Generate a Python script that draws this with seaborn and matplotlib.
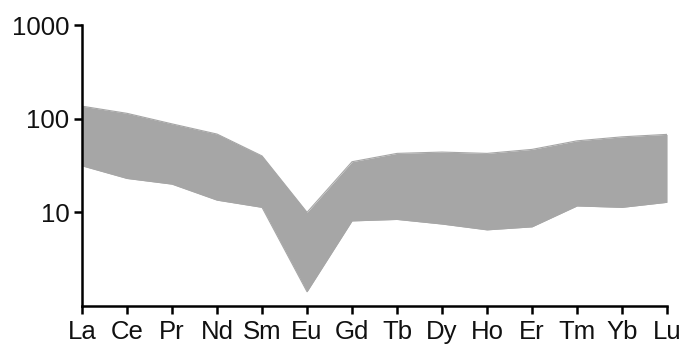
import numpy as np
import pandas as pd
import seaborn as sns
from matplotlib import pyplot as plt

elements = ['La', 'Ce', 'Pr', 'Nd', 'Sm', 'Eu', 'Gd', 'Tb', 'Dy', 'Ho', 'Er', 'Tm', 'Yb', 'Lu']
upper = [136, 114, 88, 68.5, 40, 10, 34.7, 42.6, 44, 42.6, 47, 58, 64, 68]
lower = [31.4, 23, 20, 13.5, 11.3, 1.42, 8.1, 8.4, 7.5, 6.5, 7.0, 11.7, 11.3, 12.8]
y_ticks = [10, 100, 1000]

sns.set_style("ticks")
plt.rcParams['font.family'] = ['Liberation Sans Narrow', 'Liberation Sans', 'DejaVu Sans']

df = pd.DataFrame({'element': elements, 'pos': np.arange(len(elements)),
                   'upper': upper, 'lower': lower})

fig = plt.figure(figsize=(6.8, 3.46), dpi=100)
ax = fig.add_axes([0.1206, 0.1156, 0.8604, 0.8121])

fill = '#a6a6a6'
ax.fill_between(df['pos'], df['lower'], df['upper'], color=fill, linewidth=0)
sns.lineplot(data=df, x='pos', y='upper', color=fill, linewidth=0.8, ax=ax)
sns.lineplot(data=df, x='pos', y='lower', color=fill, linewidth=0.8, ax=ax)

ax.set_yscale('log')
ax.set_ylim(1, 1000)
ax.set_xlim(0, len(elements) - 1)
ax.set_yticks(y_ticks)
ax.set_yticklabels([str(t) for t in y_ticks])
ax.minorticks_off()
ax.set_xticks(df['pos'])
ax.set_xticklabels(elements)
ax.set_xlabel('')
ax.set_ylabel('')

for side in ['top', 'right']:
    ax.spines[side].set_visible(False)
for side in ['left', 'bottom']:
    ax.spines[side].set_linewidth(1.8)
    ax.spines[side].set_color('black')
ax.tick_params(axis='both', width=1.8, length=6, color='black', labelsize=18.5, labelcolor='#111111')
ax.tick_params(axis='x', pad=4)
ax.tick_params(axis='y', pad=3)

fig.savefig('out.png', dpi=100)
